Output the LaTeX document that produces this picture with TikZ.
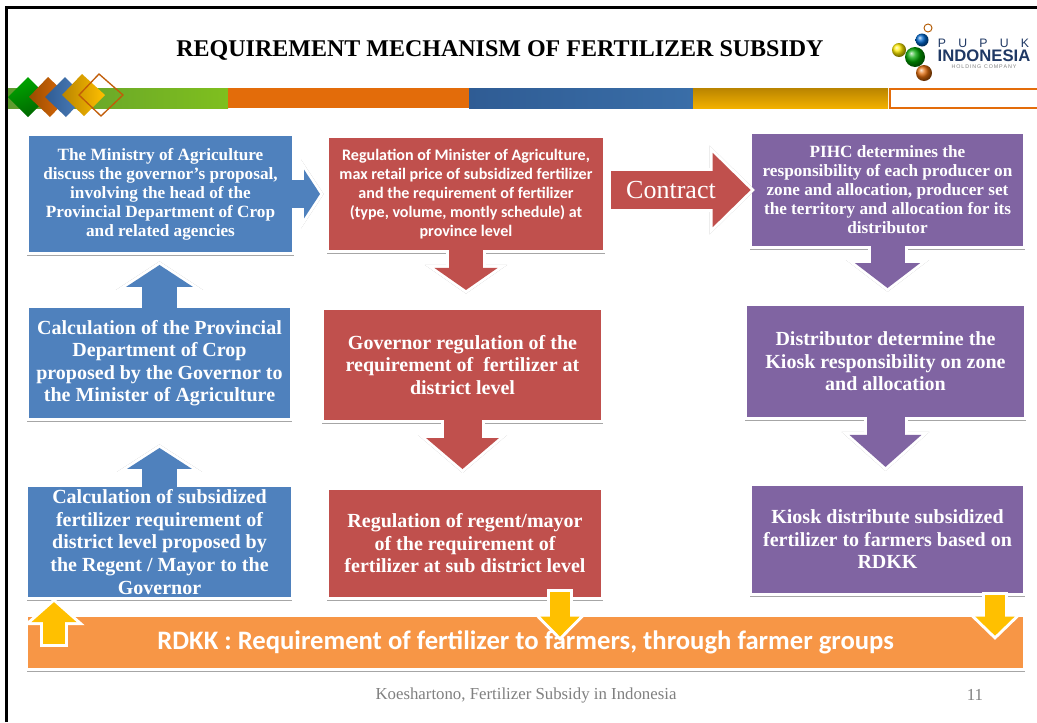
\documentclass[tikz,border=0pt]{standalone}
\usepackage{fontspec}
\setmainfont{Liberation Serif}
\setsansfont{Liberation Sans}
\newfontfamily\rdkkfont{Carlito}
\usetikzlibrary{arrows.meta,shadows}
\definecolor{boxblue}{HTML}{4F81BD}
\definecolor{boxred}{HTML}{C0504D}
\definecolor{boxpurple}{HTML}{8064A2}
\definecolor{boxorange}{HTML}{F79646}
\definecolor{arrowyellow}{HTML}{FFC000}
\definecolor{bandorange}{HTML}{E36C0A}
\definecolor{bandgreena}{HTML}{5F9B2F}
\definecolor{bandgreenb}{HTML}{7FBF1E}
\definecolor{bandbluea}{HTML}{2F5C94}
\definecolor{bandblueb}{HTML}{3A6EA8}
\definecolor{bandgold}{HTML}{B98400}
\definecolor{bandamber}{HTML}{F2B000}
\definecolor{logonavy}{HTML}{1F3864}
\tikzset{
  boxsize/.style 2 args={minimum width=#1*0.75pt,minimum height=#2*0.75pt},
  flowbox/.style={draw=white,line width=2.6pt,outer sep=0pt,inner sep=0pt,align=center,text=white,
    font=\bfseries,drop shadow={shadow xshift=0pt,shadow yshift=-1.5pt,fill=black,opacity=.35}},
  smallfont/.style={font=\fontsize{12.9}{14.25}\selectfont\bfseries},
  bigfont/.style={font=\fontsize{15}{16.9}\selectfont\bfseries},
  footnote/.style={text=gray,font=\fontsize{12.6}{14}\selectfont}
}
% colour, from, to, shaft, head width, head length, overlap at start, shorten at end (in pixels), shadow opacity
\newcommand{\blockarrow}[9]{%
  \pgfmathsetmacro{\tipgap}{3*sqrt(#6*#6+#5*#5/4)/(#5/2)}%
  \pgfmathsetmacro{\outerlen}{(#6+\tipgap+3)*0.75}%
  \pgfmathsetmacro{\outerwid}{#5*(#6+\tipgap+3)/#6*0.75}%
  \pgfmathsetmacro{\innerlen}{#6*0.75}%
  \pgfmathsetmacro{\innerwid}{#5*0.75}%
  \draw[black,opacity=#9,yshift=-1.3pt,line width={(#4+6)*0.75pt},-{Triangle[length=\outerlen pt,width=\outerwid pt]},shorten <=3pt,shorten >={#8*0.75pt}] (#2) -- (#3);
  \draw[white,line width={(#4+6)*0.75pt},-{Triangle[length=\outerlen pt,width=\outerwid pt]},shorten >={#8*0.75pt}] (#2) -- (#3);
  \draw[#1,line width={#4*0.75pt},-{Triangle[length=\innerlen pt,width=\innerwid pt]},shorten <={-#7*0.75pt},shorten >={(#8+\tipgap)*0.75pt}] (#2) -- (#3);
}

\begin{document}
\begin{tikzpicture}[x=0.75pt,y=-0.75pt]
   \useasboundingbox (0,0) rectangle (1037,722);
   \fill[white] (0,0) rectangle (1037,722);
   \draw[black,line width=2.3pt] (6.5,722) -- (6.5,7.5) -- (1037,7.5);
   \node (title) at (500,50) {\fontsize{18}{22}\selectfont\bfseries REQUIREMENT MECHANISM OF FERTILIZER SUBSIDY};

   \begin{scope}
    \shade[left color=bandgreena,right color=bandgreenb] (8,88) rectangle (228,108);
    \fill[bandorange] (228,88) rectangle (469,108);
    \shade[left color=bandbluea,right color=bandblueb] (469,88) rectangle (693,108);
    \shade[top color=bandgold,bottom color=bandamber] (693,88) rectangle (888,108);
    \draw[bandorange,line width=1.5pt,fill=white] (890,89) rectangle (1040,108);
    \shade[top color=green!65!black,bottom color=green!40!black,shading angle=20] (8,97) -- (28,77) -- (48,97) -- (28,117) -- cycle;
    \shade[left color=orange!60!black,right color=bandorange] (29,97) -- (48,77) -- (69,97) -- (50,117) -- cycle;
    \shade[left color=bandbluea,right color=boxblue] (45,97) -- (65,77) -- (85,97) -- (66,117) -- cycle;
    \shade[left color=bandgold,right color=arrowyellow] (62,95) -- (82,74) -- (105,95) -- (84,116) -- cycle;
    \draw[bandorange!85!black,line width=1pt] (79,95) -- (99,74) -- (123,95) -- (101,116) -- cycle;
   \end{scope}

   \begin{scope}
    \draw[orange!70!black,line width=.7pt] (928,28) circle (4);
    \shade[ball color=blue!50!cyan!80!black] (922,40) circle (6.5);
    \shade[ball color=yellow!85!orange] (899,50) circle (7);
    \shade[ball color=green!65!black] (915,57) circle (10);
    \shade[ball color=bandorange] (924,73) circle (8);
    \node[text=logonavy,font=\sffamily\fontsize{9.2}{10}\selectfont] (logotop) at (983.5,43) {P\,\,\,\,\,\,U\,\,\,\,\,\,P\,\,\,\,\,\,U\,\,\,\,\,\,K};
    \node[text=logonavy,font=\sffamily\bfseries\fontsize{12.5}{12}\selectfont] (logomid) at (984,56) {INDONESIA};
    \node[text=gray,font=\sffamily\fontsize{4}{5}\selectfont] (logolow) at (984,67) {H\,O\,L\,D\,I\,N\,G\,\,\,C\,O\,M\,P\,A\,N\,Y};
   \end{scope}

   \node[flowbox,smallfont,fill=boxblue,boxsize={266.5}{119.5}] (ministry) at (160.5,194)
     {The Ministry of Agriculture\\discuss the governor's proposal,\\involving the head of the\\Provincial Department of Crop\\and related agencies};
   \node[flowbox,fill=boxred,boxsize={277.5}{115.5},font=\rdkkfont\fontsize{12.05}{14.25}\selectfont\bfseries] (regulation) at (466,194)
     {Regulation of Minister of Agriculture,\\max retail price of subsidized fertilizer\\and the requirement of fertilizer\\(type, volume, montly schedule) at\\province level};
   \node[flowbox,smallfont,fill=boxpurple,boxsize={274.5}{115.5}] (pihc) at (887.5,190)
     {PIHC determines the\\responsibility of each producer on\\zone and allocation, producer set\\the territory and allocation for its\\distributor};
   \node[flowbox,bigfont,fill=boxblue,boxsize={264.5}{113.5}] (provincial) at (159.5,363)
     {Calculation of the Provincial\\Department of Crop\\proposed by the Governor to\\the Minister of Agriculture};
   \node[flowbox,bigfont,fill=boxred,boxsize={280.5}{113.5}] (governor) at (462.5,365)
     {Governor regulation of the\\requirement of\ \ fertilizer at\\district level};
   \node[flowbox,bigfont,fill=boxpurple,boxsize={280.5}{114.5}] (distributor) at (885.5,361.5)
     {Distributor determine the\\Kiosk responsibility on zone\\and allocation};
   \node[flowbox,bigfont,fill=boxblue,boxsize={265.5}{113.5}] (district) at (159.5,542)
     {Calculation of subsidized\\fertilizer requirement of\\district level proposed by\\the Regent / Mayor to the\\Governor};
   \node[flowbox,bigfont,fill=boxred,boxsize={275.5}{110.5}] (regent) at (465,543.5)
     {Regulation of regent/mayor\\of the requirement of\\fertilizer at sub district level};
   \node[flowbox,bigfont,fill=boxpurple,boxsize={274.5}{110.5}] (kiosk) at (887.5,539.5)
     {Kiosk distribute subsidized\\fertilizer to farmers based on\\RDKK};
   \node[flowbox,fill=boxorange,boxsize={998}{54.5},font=\rdkkfont\fontsize{20}{22}\selectfont\bfseries] (rdkk) at (525.75,642.5)
     {RDKK : Requirement of fertilizer to farmers, through farmer groups};

   \coordinate (yellowa) at (54,647);
   \coordinate (yellowb) at (560,589);
   \coordinate (yellowc) at (995,592);

   \blockarrow{boxblue}{ministry.east}{regulation.west}{28}{48}{16}{2}{3.6}{.3}
   \blockarrow{boxred}{regulation.east |- pihc.west}{pihc.west}{38}{72}{38}{-6.3}{-4.8}{.3}
   \blockarrow{boxblue}{provincial.north}{provincial.north |- ministry.south}{35}{66}{22}{2}{7.6}{.3}
   \blockarrow{boxblue}{district.north}{district.north |- provincial.south}{35}{64}{21}{2}{24.6}{.3}
   \blockarrow{boxred}{regulation.south}{regulation.south |- governor.north}{34}{62}{22}{2}{14.6}{.3}
   \blockarrow{boxred}{governor.south}{governor.south |- regent.north}{38}{71}{31}{2}{15.2}{.3}
   \blockarrow{boxpurple}{pihc.south}{pihc.south |- distributor.north}{34}{64}{25}{2}{12.4}{.3}
   \blockarrow{boxpurple}{distributor.south}{distributor.south |- kiosk.north}{38}{70}{32}{2}{13.2}{.3}
   \blockarrow{arrowyellow}{yellowa}{yellowa |- district.south}{22}{44}{20}{-3}{-0.7}{0}
   \blockarrow{arrowyellow}{yellowb}{yellowb |- rdkk.north}{20}{38}{20}{-3}{-25.7}{0}
   \blockarrow{arrowyellow}{yellowc}{yellowc |- rdkk.north}{20}{38}{19}{-3}{-24.7}{0}

   \node[text=white,font=\fontsize{19.5}{22}\selectfont] (contract) at (671,190) {Contract};
   \node[footnote] (footer) at (526,695) {Koeshartono, Fertilizer Subsidy in Indonesia};
   \node[footnote] (pageno) at (975,695) {11};
\end{tikzpicture}
\end{document}
